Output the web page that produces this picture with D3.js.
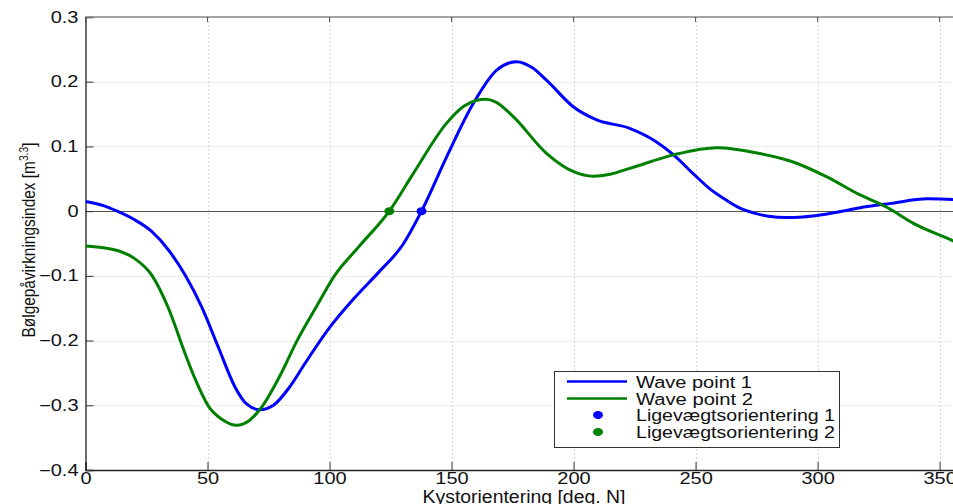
<!DOCTYPE html>
<html><head><meta charset="utf-8">
<script src="https://cdn.jsdelivr.net/npm/d3@7"></script>
<style>
body{margin:0;background:#fff;}
svg{display:block;font-family:"Liberation Sans",Arial,Helvetica,sans-serif;}
</style></head>
<body><svg id="c" width="953" height="504"></svg>
<script>
const xTicks = [0,50,100,150,200,250,300,350];
const yTicks = [-0.4,-0.3,-0.2,-0.1,0,0.1,0.2,0.3];
const seriesNames = ["Wave point 1","Wave point 2"];
const eqNames = ["Ligevægtsorientering 1","Ligevægtsorientering 2"];
const colors = ["#0000ff","#008000"];
const wave1X = [0,7,13,20,27,34,41,47.6,54.4,61.3,66,71.5,77,84,90,100,110,120,130,137.7,148,159,168.5,176.7,183,189,200,209.5,223,234,241,249,256,263,268,274,280,287,294,301,309,317,330,345,355.5,360];
const wave1Y = [0.015,0.009,0.0,-0.013,-0.031,-0.06,-0.10,-0.148,-0.21,-0.272,-0.298,-0.307,-0.300,-0.27,-0.235,-0.18,-0.135,-0.095,-0.052,0,0.084,0.167,0.218,0.231,0.222,0.202,0.161,0.141,0.128,0.107,0.087,0.058,0.034,0.016,0.005,-0.003,-0.008,-0.010,-0.009,-0.006,-0.001,0.005,0.012,0.019,0.018,0.016];
const wave2X = [0,8,14,20,27,34,40.8,45,50.5,56,62,67,72.7,80,86.7,95,102,112,124.5,134.3,148,155,160,164,168,175.3,189,200,208,215,223,241,258.7,276.4,290,303.8,317.4,328.4,339.3,355.5,360];
const wave2Y = [-0.054,-0.057,-0.062,-0.073,-0.098,-0.15,-0.22,-0.26,-0.302,-0.322,-0.331,-0.324,-0.300,-0.252,-0.200,-0.145,-0.100,-0.055,0,0.058,0.136,0.162,0.171,0.173,0.169,0.146,0.089,0.061,0.054,0.057,0.066,0.087,0.098,0.089,0.076,0.053,0.025,0.006,-0.019,-0.046,-0.054];
const eqX = [137.7,124.5];
const eqY = [0,0];

const svg = d3.select("#c");
const L=85.5, R=964, T=17, B=470;
const x = d3.scaleLinear().domain([0,360]).range([L,R]);
const y = d3.scaleLinear().domain([-0.4,0.3]).range([B,T]);

function stretch(sel, f){
  sel.each(function(){
    const w = this.getComputedTextLength();
    d3.select(this).attr("textLength", w*f).attr("lengthAdjust","spacingAndGlyphs");
  });
}

// grid
const g = svg.append("g");
g.selectAll(".gx").data(xTicks).enter().append("line")
  .attr("x1",d=>Math.round(x(d))+0.5).attr("x2",d=>Math.round(x(d))+0.5).attr("y1",T).attr("y2",B)
  .attr("stroke","#d8d8d8").attr("stroke-dasharray","2,2");
g.selectAll(".gy").data(yTicks).enter().append("line")
  .attr("y1",d=>Math.round(y(d))+0.5).attr("y2",d=>Math.round(y(d))+0.5).attr("x1",L).attr("x2",R)
  .attr("stroke","#d8d8d8").attr("stroke-dasharray","2,2");

// zero line
svg.append("line").attr("x1",L).attr("x2",R).attr("y1",Math.round(y(0))+0.5).attr("y2",Math.round(y(0))+0.5)
  .attr("stroke","#555").attr("stroke-width",1);

// axes
const xAxis = d3.axisBottom(x).tickValues(xTicks).tickSize(-8).tickPadding(3).tickFormat(d3.format("d"));
const yAxis = d3.axisLeft(y).tickValues(yTicks).tickSize(-8).tickPadding(7).tickFormat(d=>d===0?"0":d3.format(".1f")(d));
const gx = svg.append("g").attr("transform",`translate(0,${B})`).call(xAxis);
const gy = svg.append("g").attr("transform",`translate(${L},0)`).call(yAxis);
[gx,gy].forEach(a=>{
  a.select(".domain").attr("stroke","#222").attr("stroke-width",1.3);
  a.selectAll(".tick line").attr("stroke","#333");
  a.selectAll("text").attr("font-size",16).attr("fill","#111").attr("font-family","Liberation Sans, Arial, sans-serif");
  stretch(a.selectAll("text"),1.25);
});
// top border + top ticks
svg.append("line").attr("x1",L).attr("x2",R).attr("y1",T).attr("y2",T).attr("stroke","#888").attr("stroke-width",1.5);
svg.selectAll(".tt").data(xTicks).enter().append("line")
  .attr("x1",d=>x(d)).attr("x2",d=>x(d)).attr("y1",T).attr("y2",T+5).attr("stroke","#555");

// lines
const line = d3.line().x(d=>x(d[0])).y(d=>y(d[1])).curve(d3.curveMonotoneX);
const data = [d3.zip(wave1X,wave1Y), d3.zip(wave2X,wave2Y)];
svg.append("clipPath").attr("id","cp").append("rect").attr("x",L).attr("y",T).attr("width",R-L).attr("height",B-T);
svg.selectAll(".series").data(data).enter().append("path")
  .attr("d",line).attr("fill","none").attr("stroke",(d,i)=>colors[i]).attr("stroke-width",3)
  .attr("clip-path","url(#cp)");
svg.selectAll(".eq").data(d3.zip(eqX,eqY)).enter().append("ellipse")
  .attr("cx",d=>x(d[0])).attr("cy",d=>y(d[1])).attr("rx",5).attr("ry",4)
  .attr("fill",(d,i)=>colors[i]);

// legend
const lg = svg.append("g");
lg.append("rect").attr("x",554.5).attr("y",371.5).attr("width",285).attr("height",76)
  .attr("fill","#fff").attr("stroke","#333").attr("stroke-width",1);
const rows = [381.5,398.5,415,432];
const lens = [[116,117],[199,199]];
seriesNames.forEach((n,i)=>{
  lg.append("line").attr("x1",567).attr("x2",627).attr("y1",rows[i]).attr("y2",rows[i]).attr("stroke",colors[i]).attr("stroke-width",2.5);
  lg.append("text").attr("x",636).attr("y",rows[i]+6).text(n).attr("font-size",16).attr("fill","#111")
    .attr("textLength",lens[0][i]).attr("lengthAdjust","spacingAndGlyphs");
});
eqNames.forEach((n,i)=>{
  lg.append("ellipse").attr("cx",598).attr("cy",rows[i+2]).attr("rx",5).attr("ry",4).attr("fill",colors[i]);
  lg.append("text").attr("x",636).attr("y",rows[i+2]+6).text(n).attr("font-size",16).attr("fill","#111")
    .attr("textLength",lens[1][i]).attr("lengthAdjust","spacingAndGlyphs");
});

// axis labels
svg.append("text").attr("x",524).attr("y",503).attr("text-anchor","middle")
  .attr("font-size",17.5).attr("fill","#111").attr("textLength",203).attr("lengthAdjust","spacingAndGlyphs")
  .text("Kystorientering [deg. N]");
const ylg = svg.append("g");
const yl = ylg.append("text").attr("text-anchor","middle")
  .attr("font-size",18).attr("fill","#111");
yl.append("tspan").text("Bølgepåvirkningsindex [m");
yl.append("tspan").attr("dy",-7).attr("font-size",12).text("3.3");
yl.append("tspan").attr("dy",7).text("]");
const bw = yl.node().getBBox().width;
ylg.attr("transform",`translate(35,240) rotate(-90) scale(${195/bw},1)`);
</script></body></html>
